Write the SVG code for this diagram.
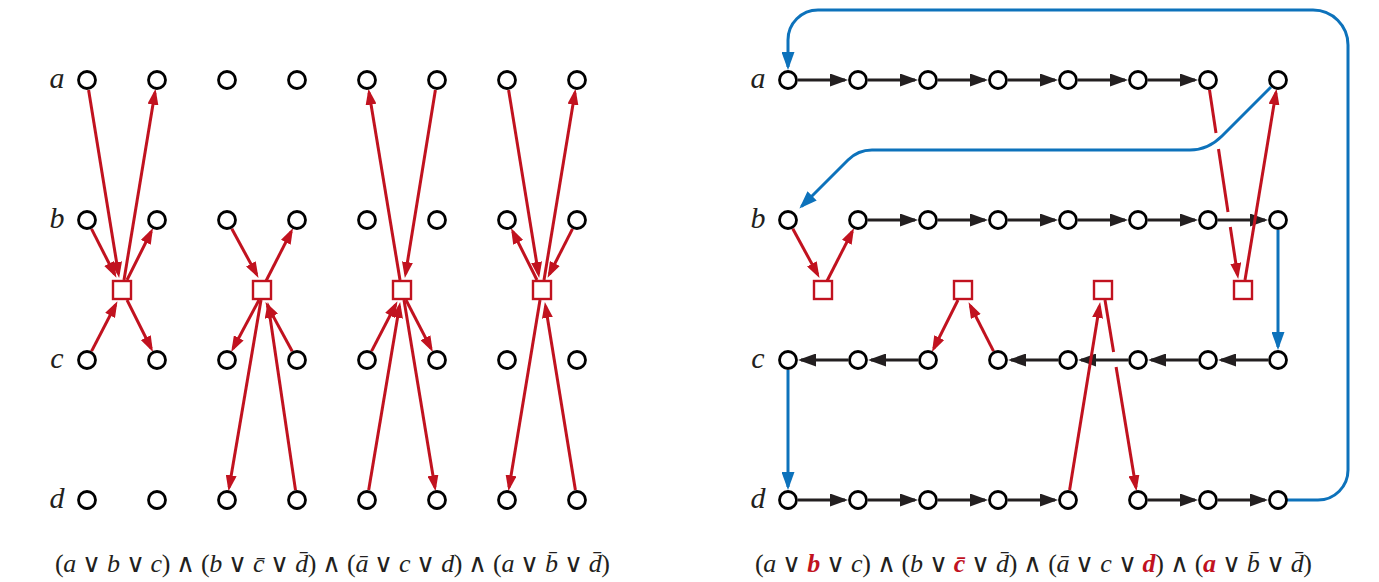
<svg xmlns="http://www.w3.org/2000/svg" width="1379" height="582" viewBox="0 0 1379 582">
<style>
.n{fill:#fff;stroke:#000;stroke-width:2.8}
.s{fill:#fff;stroke:#c1121f;stroke-width:2.4}
.r{stroke:#c1121f;stroke-width:3;fill:none;marker-end:url(#mr)}
.r0{stroke:#c1121f;stroke-width:3;fill:none}
.k{stroke:#231f20;stroke-width:3;marker-end:url(#mk)}
.b{stroke:#0d72bb;stroke-width:3;fill:none}
.ba{stroke:#0d72bb;stroke-width:3;fill:none;marker-end:url(#mb)}
.lbl{font-family:"Liberation Serif",serif;font-style:italic;font-size:30px;fill:#231f20}
.f{font-family:"Liberation Serif","DejaVu Serif",serif;font-size:26px;fill:#231f20}
.i{font-style:italic}
.o{font-family:"DejaVu Sans",sans-serif;font-weight:200;font-size:26px}
.hl{font-style:italic;font-weight:bold;fill:#c1121f}
</style>
<defs>
<marker id="mr" markerUnits="userSpaceOnUse" markerWidth="16" markerHeight="11" refX="12" refY="5.5" orient="auto"><path d="M0,0 L16,5.5 L0,11 z" fill="#c1121f"/></marker>
<marker id="mk" markerUnits="userSpaceOnUse" markerWidth="18" markerHeight="13" refX="15" refY="6.5" orient="auto"><path d="M0,0 L18,6.5 L0,13 z" fill="#231f20"/></marker>
<marker id="mb" markerUnits="userSpaceOnUse" markerWidth="18" markerHeight="13" refX="15" refY="6.5" orient="auto"><path d="M0,0 L18,6.5 L0,13 z" fill="#0d72bb"/></marker>
</defs>
<rect width="1379" height="582" fill="#fff"/>

<g id="labels">
<text class="lbl" x="57" y="88" text-anchor="middle">a</text>
<text class="lbl" x="57" y="228" text-anchor="middle">b</text>
<text class="lbl" x="57" y="368" text-anchor="middle">c</text>
<text class="lbl" x="57" y="508" text-anchor="middle">d</text>
<text class="lbl" x="758" y="88" text-anchor="middle">a</text>
<text class="lbl" x="758" y="228" text-anchor="middle">b</text>
<text class="lbl" x="758" y="368" text-anchor="middle">c</text>
<text class="lbl" x="758" y="508" text-anchor="middle">d</text>
</g>

<g id="connectors">
<!-- left clause 1 -->
<line class="r" x1="88.6" y1="89.9" x2="118.5" y2="274"/>
<line class="r" x1="124" y1="280" x2="154.9" y2="92.8"/>
<line class="r" x1="91.5" y1="228.9" x2="114.6" y2="274.3"/>
<line class="r" x1="127" y1="280" x2="151.2" y2="231.6"/>
<line class="r" x1="91.6" y1="351.1" x2="115.6" y2="304.7"/>
<line class="r" x1="127" y1="300" x2="151.2" y2="348.4"/>
<!-- left clause 2 -->
<line class="r" x1="231.8" y1="228.8" x2="256.6" y2="274.4"/>
<line class="r" x1="266" y1="281" x2="291.2" y2="231.6"/>
<line class="r" x1="292.2" y1="351.2" x2="267.4" y2="305.6"/>
<line class="r" x1="259" y1="300" x2="233.1" y2="348.5"/>
<line class="r" x1="295.5" y1="490.1" x2="268.4" y2="306"/>
<line class="r" x1="261" y1="300" x2="229.2" y2="487.2"/>
<!-- left clause 3 -->
<line class="r" x1="435.4" y1="89.9" x2="405.5" y2="274"/>
<line class="r" x1="400" y1="280" x2="369.1" y2="92.8"/>
<line class="r" x1="371.6" y1="351.1" x2="395.6" y2="304.7"/>
<line class="r" x1="406" y1="300" x2="431" y2="348.4"/>
<line class="r" x1="368.7" y1="490.1" x2="399.5" y2="306"/>
<line class="r" x1="404" y1="300" x2="434.9" y2="487.2"/>
<!-- left clause 4 -->
<line class="r" x1="508.6" y1="89.9" x2="538.5" y2="274"/>
<line class="r" x1="544" y1="280" x2="574.9" y2="92.8"/>
<line class="r" x1="572.5" y1="228.9" x2="549.4" y2="274.3"/>
<line class="r" x1="537" y1="280" x2="512.8" y2="231.6"/>
<line class="r" x1="575.4" y1="490.1" x2="545.5" y2="306"/>
<line class="r" x1="540" y1="300" x2="509.1" y2="487.2"/>

<!-- right black chains -->
<line class="k" x1="798" y1="80" x2="845" y2="80"/>
<line class="k" x1="868" y1="80" x2="915" y2="80"/>
<line class="k" x1="938" y1="80" x2="985" y2="80"/>
<line class="k" x1="1008" y1="80" x2="1055" y2="80"/>
<line class="k" x1="1078" y1="80" x2="1125" y2="80"/>
<line class="k" x1="1148" y1="80" x2="1195" y2="80"/>
<line class="k" x1="868" y1="220" x2="915" y2="220"/>
<line class="k" x1="938" y1="220" x2="985" y2="220"/>
<line class="k" x1="1008" y1="220" x2="1055" y2="220"/>
<line class="k" x1="1078" y1="220" x2="1125" y2="220"/>
<line class="k" x1="1148" y1="220" x2="1195" y2="220"/>
<line class="k" x1="1218" y1="220" x2="1265" y2="220"/>
<line class="k" x1="1268" y1="360" x2="1221" y2="360"/>
<line class="k" x1="1198" y1="360" x2="1151" y2="360"/>
<line class="k" x1="1128" y1="360" x2="1081" y2="360"/>
<line class="k" x1="1058" y1="360" x2="1011" y2="360"/>
<line class="k" x1="918" y1="360" x2="871" y2="360"/>
<line class="k" x1="848" y1="360" x2="801" y2="360"/>
<line class="k" x1="798" y1="500" x2="845" y2="500"/>
<line class="k" x1="868" y1="500" x2="915" y2="500"/>
<line class="k" x1="938" y1="500" x2="985" y2="500"/>
<line class="k" x1="1008" y1="500" x2="1055" y2="500"/>
<line class="k" x1="1148" y1="500" x2="1195" y2="500"/>
<line class="k" x1="1218" y1="500" x2="1265" y2="500"/>

<!-- right blue -->
<path class="ba" d="M1287,500 H1318 A30,30 0 0 0 1348,470 V45 A35,35 0 0 0 1313,10 H818 A30,30 0 0 0 788,40 V67"/>
<path class="ba" d="M1271,87 L1222,136 Q1208,150 1190,150 H872 Q858,150 848,160 L801.5,206.5"/>
<line class="ba" x1="1278" y1="230" x2="1278" y2="347"/>
<line class="ba" x1="788" y1="370" x2="788" y2="487"/>

<!-- right red -->
<line class="r" x1="792.8" y1="228.8" x2="817.6" y2="274.4"/>
<line class="r" x1="827" y1="281" x2="852.2" y2="231.6"/>
<line class="r" x1="958" y1="300" x2="933.8" y2="348.4"/>
<line class="r" x1="993.5" y1="351.1" x2="970.4" y2="305.7"/>
<line class="r0" x1="1105" y1="300" x2="1113.6" y2="352"/>
<line class="r" x1="1116.1" y1="367" x2="1135.9" y2="487.2"/>
<line class="r" x1="1069.6" y1="490.1" x2="1099.5" y2="306"/>
<line class="r0" x1="1209.5" y1="89.9" x2="1216" y2="133"/>
<line class="r0" x1="1218.5" y1="149" x2="1228" y2="212"/>
<line class="r" x1="1230.3" y1="227" x2="1237.6" y2="275"/>
<line class="r" x1="1245" y1="280" x2="1275.9" y2="92.8"/>
</g>

<g id="L-a0"><circle class="n" cx="87" cy="80" r="8.5"/></g>
<g id="L-a1"><circle class="n" cx="157" cy="80" r="8.5"/></g>
<g id="L-a2"><circle class="n" cx="227" cy="80" r="8.5"/></g>
<g id="L-a3"><circle class="n" cx="297" cy="80" r="8.5"/></g>
<g id="L-a4"><circle class="n" cx="367" cy="80" r="8.5"/></g>
<g id="L-a5"><circle class="n" cx="437" cy="80" r="8.5"/></g>
<g id="L-a6"><circle class="n" cx="507" cy="80" r="8.5"/></g>
<g id="L-a7"><circle class="n" cx="577" cy="80" r="8.5"/></g>
<g id="L-b0"><circle class="n" cx="87" cy="220" r="8.5"/></g>
<g id="L-b1"><circle class="n" cx="157" cy="220" r="8.5"/></g>
<g id="L-b2"><circle class="n" cx="227" cy="220" r="8.5"/></g>
<g id="L-b3"><circle class="n" cx="297" cy="220" r="8.5"/></g>
<g id="L-b4"><circle class="n" cx="367" cy="220" r="8.5"/></g>
<g id="L-b5"><circle class="n" cx="437" cy="220" r="8.5"/></g>
<g id="L-b6"><circle class="n" cx="507" cy="220" r="8.5"/></g>
<g id="L-b7"><circle class="n" cx="577" cy="220" r="8.5"/></g>
<g id="L-c0"><circle class="n" cx="87" cy="360" r="8.5"/></g>
<g id="L-c1"><circle class="n" cx="157" cy="360" r="8.5"/></g>
<g id="L-c2"><circle class="n" cx="227" cy="360" r="8.5"/></g>
<g id="L-c3"><circle class="n" cx="297" cy="360" r="8.5"/></g>
<g id="L-c4"><circle class="n" cx="367" cy="360" r="8.5"/></g>
<g id="L-c5"><circle class="n" cx="437" cy="360" r="8.5"/></g>
<g id="L-c6"><circle class="n" cx="507" cy="360" r="8.5"/></g>
<g id="L-c7"><circle class="n" cx="577" cy="360" r="8.5"/></g>
<g id="L-d0"><circle class="n" cx="87" cy="500" r="8.5"/></g>
<g id="L-d1"><circle class="n" cx="157" cy="500" r="8.5"/></g>
<g id="L-d2"><circle class="n" cx="227" cy="500" r="8.5"/></g>
<g id="L-d3"><circle class="n" cx="297" cy="500" r="8.5"/></g>
<g id="L-d4"><circle class="n" cx="367" cy="500" r="8.5"/></g>
<g id="L-d5"><circle class="n" cx="437" cy="500" r="8.5"/></g>
<g id="L-d6"><circle class="n" cx="507" cy="500" r="8.5"/></g>
<g id="L-d7"><circle class="n" cx="577" cy="500" r="8.5"/></g>
<g id="L-q1"><rect class="s" x="113" y="281" width="18" height="18"/></g>
<g id="L-q2"><rect class="s" x="253" y="281" width="18" height="18"/></g>
<g id="L-q3"><rect class="s" x="393" y="281" width="18" height="18"/></g>
<g id="L-q4"><rect class="s" x="533" y="281" width="18" height="18"/></g>

<g id="R-a0"><circle class="n" cx="788" cy="80" r="8.5"/></g>
<g id="R-a1"><circle class="n" cx="858" cy="80" r="8.5"/></g>
<g id="R-a2"><circle class="n" cx="928" cy="80" r="8.5"/></g>
<g id="R-a3"><circle class="n" cx="998" cy="80" r="8.5"/></g>
<g id="R-a4"><circle class="n" cx="1068" cy="80" r="8.5"/></g>
<g id="R-a5"><circle class="n" cx="1138" cy="80" r="8.5"/></g>
<g id="R-a6"><circle class="n" cx="1208" cy="80" r="8.5"/></g>
<g id="R-a7"><circle class="n" cx="1278" cy="80" r="8.5"/></g>
<g id="R-b0"><circle class="n" cx="788" cy="220" r="8.5"/></g>
<g id="R-b1"><circle class="n" cx="858" cy="220" r="8.5"/></g>
<g id="R-b2"><circle class="n" cx="928" cy="220" r="8.5"/></g>
<g id="R-b3"><circle class="n" cx="998" cy="220" r="8.5"/></g>
<g id="R-b4"><circle class="n" cx="1068" cy="220" r="8.5"/></g>
<g id="R-b5"><circle class="n" cx="1138" cy="220" r="8.5"/></g>
<g id="R-b6"><circle class="n" cx="1208" cy="220" r="8.5"/></g>
<g id="R-b7"><circle class="n" cx="1278" cy="220" r="8.5"/></g>
<g id="R-c0"><circle class="n" cx="788" cy="360" r="8.5"/></g>
<g id="R-c1"><circle class="n" cx="858" cy="360" r="8.5"/></g>
<g id="R-c2"><circle class="n" cx="928" cy="360" r="8.5"/></g>
<g id="R-c3"><circle class="n" cx="998" cy="360" r="8.5"/></g>
<g id="R-c4"><circle class="n" cx="1068" cy="360" r="8.5"/></g>
<g id="R-c5"><circle class="n" cx="1138" cy="360" r="8.5"/></g>
<g id="R-c6"><circle class="n" cx="1208" cy="360" r="8.5"/></g>
<g id="R-c7"><circle class="n" cx="1278" cy="360" r="8.5"/></g>
<g id="R-d0"><circle class="n" cx="788" cy="500" r="8.5"/></g>
<g id="R-d1"><circle class="n" cx="858" cy="500" r="8.5"/></g>
<g id="R-d2"><circle class="n" cx="928" cy="500" r="8.5"/></g>
<g id="R-d3"><circle class="n" cx="998" cy="500" r="8.5"/></g>
<g id="R-d4"><circle class="n" cx="1068" cy="500" r="8.5"/></g>
<g id="R-d5"><circle class="n" cx="1138" cy="500" r="8.5"/></g>
<g id="R-d6"><circle class="n" cx="1208" cy="500" r="8.5"/></g>
<g id="R-d7"><circle class="n" cx="1278" cy="500" r="8.5"/></g>
<g id="R-q1"><rect class="s" x="814" y="281" width="18" height="18"/></g>
<g id="R-q2"><rect class="s" x="954" y="281" width="18" height="18"/></g>
<g id="R-q3"><rect class="s" x="1094" y="281" width="18" height="18"/></g>
<g id="R-q4"><rect class="s" x="1234" y="281" width="18" height="18"/></g>

<g id="formulas">
<text class="f" x="55" y="572" textLength="555" lengthAdjust="spacing">(<tspan class="i">a</tspan> <tspan class="o">∨</tspan> <tspan class="i">b</tspan> <tspan class="o">∨</tspan> <tspan class="i">c</tspan>) <tspan class="o">∧</tspan> (<tspan class="i">b</tspan> <tspan class="o">∨</tspan> <tspan class="i">c̄</tspan> <tspan class="o">∨</tspan> <tspan class="i">d̄</tspan>) <tspan class="o">∧</tspan> (<tspan class="i">ā</tspan> <tspan class="o">∨</tspan> <tspan class="i">c</tspan> <tspan class="o">∨</tspan> <tspan class="i">d</tspan>) <tspan class="o">∧</tspan> (<tspan class="i">a</tspan> <tspan class="o">∨</tspan> <tspan class="i">b̄</tspan> <tspan class="o">∨</tspan> <tspan class="i">d̄</tspan>)</text>
<text class="f" x="755" y="572" textLength="557" lengthAdjust="spacing">(<tspan class="i">a</tspan> <tspan class="o">∨</tspan> <tspan class="hl">b</tspan> <tspan class="o">∨</tspan> <tspan class="i">c</tspan>) <tspan class="o">∧</tspan> (<tspan class="i">b</tspan> <tspan class="o">∨</tspan> <tspan class="hl">c̄</tspan> <tspan class="o">∨</tspan> <tspan class="i">d̄</tspan>) <tspan class="o">∧</tspan> (<tspan class="i">ā</tspan> <tspan class="o">∨</tspan> <tspan class="i">c</tspan> <tspan class="o">∨</tspan> <tspan class="hl">d</tspan>) <tspan class="o">∧</tspan> (<tspan class="hl">a</tspan> <tspan class="o">∨</tspan> <tspan class="i">b̄</tspan> <tspan class="o">∨</tspan> <tspan class="i">d̄</tspan>)</text>
</g>
</svg>
